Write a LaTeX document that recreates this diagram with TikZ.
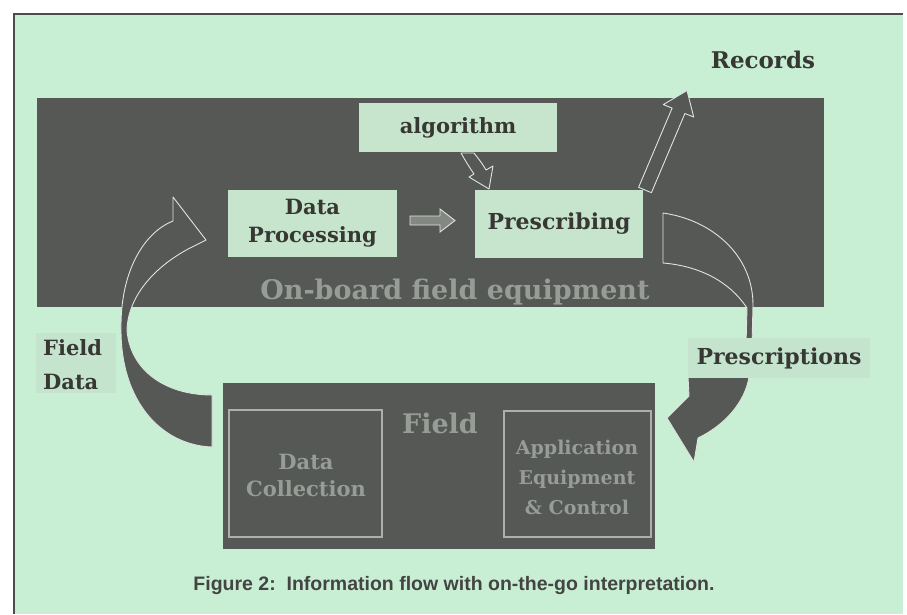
\documentclass[tikz,border=0pt]{standalone}
\usepackage{fontspec}
\setmainfont{DejaVu Serif}
\newfontfamily\capfont{Liberation Sans}
\definecolor{panel}{RGB}{200,239,212}
\definecolor{darkbox}{RGB}{86,88,86}
\definecolor{lbox}{RGB}{198,229,204}
\definecolor{tagbg}{RGB}{196,228,205}
\definecolor{ink}{RGB}{55,55,52}
\definecolor{faint}{RGB}{150,156,150}
\definecolor{edgec}{RGB}{222,228,222}
\definecolor{capink}{RGB}{68,68,66}
\tikzset{
  darkrect/.style={fill=darkbox, draw=none, inner sep=0pt, outer sep=0pt},
  litebox/.style={fill=lbox, text=ink, align=center, inner sep=0pt, outer sep=0pt},
  tagbox/.style={fill=tagbg, text=ink, align=center, inner sep=0pt, outer sep=0pt},
  innerbox/.style={draw=faint!80!white, line width=1.3pt, fill=none, inner sep=0pt},
  faintlabel/.style={text=faint, align=center, inner sep=0pt},
  blockarrow/.style={fill=darkbox, draw=edgec, line width=0.9pt, line join=round},
  lightarrow/.style={fill=faint!70!darkbox, draw=edgec, line width=0.9pt, line join=miter},
}
\begin{document}
\begin{tikzpicture}[x=1pt,y=-1pt]
\useasboundingbox (0,0) rectangle (907,614);
\fill[white] (0,0) rectangle (907,614);
\fill[panel] (14,14) rectangle (903,614);
\draw[gray!60!black, line width=1.2pt] (14,614) -- (14,14) -- (903,14);

% main containers
\node[darkrect, minimum width=787pt, minimum height=209pt, anchor=north west] (onboard) at (37,98) {};
\node[darkrect, minimum width=432pt, minimum height=166pt, anchor=north west] (field) at (223,383) {};

% left curved arrow: Field data
\draw[blockarrow] (212,447) .. controls (160,445) and (121,400) .. (121,330)
   .. controls (120,270) and (145,232) .. (173,221) -- (173,197) -- (206,240) -- (190,248)
   .. controls (152,268) and (128,298) .. (127,330)
   .. controls (130,370) and (165,395) .. (212,395) -- cycle;

% right curved arrow: prescriptions
\draw[blockarrow] (663,213) .. controls (712,220) and (753,255) .. (753,305) -- (752,345)
   -- (749,377) .. controls (745,402) and (725,425) .. (698,438) -- (694,462) -- (667,418)
   -- (689,396) -- (688,376) -- (746,345) -- (747,308)
   .. controls (730,282) and (700,266) .. (663,263) -- cycle;

% records arrow
\draw[blockarrow] (638.6,187.3) -- (672.1,108.1) -- (663.3,104.6) -- (687,90.5)
   -- (693.7,117) -- (684.9,113.5) -- (651.4,192.7) -- cycle;

% algorithm -> prescribing
\draw[blockarrow] (461,153) .. controls (466,162) and (470,168) .. (474,174) -- (469,177)
   -- (489,189) -- (493,166) -- (486,170) .. controls (482,163) and (478,158) .. (474,153) -- cycle;

% data processing -> prescribing
\draw[lightarrow] (410,216) -- (440,216) -- (440,209) -- (455,220.5) -- (440,232)
   -- (440,225) -- (410,225) -- cycle;

% light boxes
\node[litebox, minimum width=198pt, minimum height=49pt, font=\fontsize{21}{26}\selectfont\bfseries] (algo) at (458,127.5) {algorithm};
\node[litebox, minimum width=169pt, minimum height=67pt, font=\fontsize{21}{28}\selectfont\bfseries] (proc) at (312.5,223.5) {Data\\Processing};
\node[litebox, minimum width=168pt, minimum height=68pt, font=\fontsize{22}{28}\selectfont\bfseries] (presc) at (559,224) {Prescribing};

\node[faintlabel, font=\fontsize{27}{30}\selectfont\bfseries] (onboardlbl) at (455,292) {On-board field equipment};

% outer labels
\node[tagbox, minimum width=80pt, minimum height=60pt] (fdbg) at (76,363) {};
\node[text=ink, align=left, inner sep=0pt, anchor=west, font=\fontsize{21}{34}\selectfont\bfseries] (fdlbl) at (43,365) {Field\\Data};
\node[tagbox, minimum width=182pt, minimum height=40pt, font=\fontsize{22}{26}\selectfont\bfseries] (prlbl) at (779,358) {Prescriptions};
\node[text=ink, inner sep=0pt, font=\fontsize{23}{26}\selectfont\bfseries] (reclbl) at (763,60) {Records};

% field box contents
\node[innerbox, minimum width=153pt, minimum height=127pt] (collect) at (305.5,473.5) {};
\node[innerbox, minimum width=147pt, minimum height=126pt] (apply) at (577.5,474) {};
\node[faintlabel, font=\fontsize{27}{30}\selectfont\bfseries] (fieldlbl) at (440,423) {Field};
\node[faintlabel, font=\fontsize{21}{27}\selectfont\bfseries] (colltxt) at (306,475) {Data\\Collection};
\node[faintlabel, font=\fontsize{19}{30}\selectfont\bfseries] (applytxt) at (577,477) {Application\\Equipment\\\& Control};

% caption
\node[text=capink, inner sep=0pt, font=\capfont\fontsize{19.5}{22}\selectfont\bfseries] (caption) at (454,585) {Figure 2:\ \ Information flow with on-the-go interpretation.};
\end{tikzpicture}
\end{document}
